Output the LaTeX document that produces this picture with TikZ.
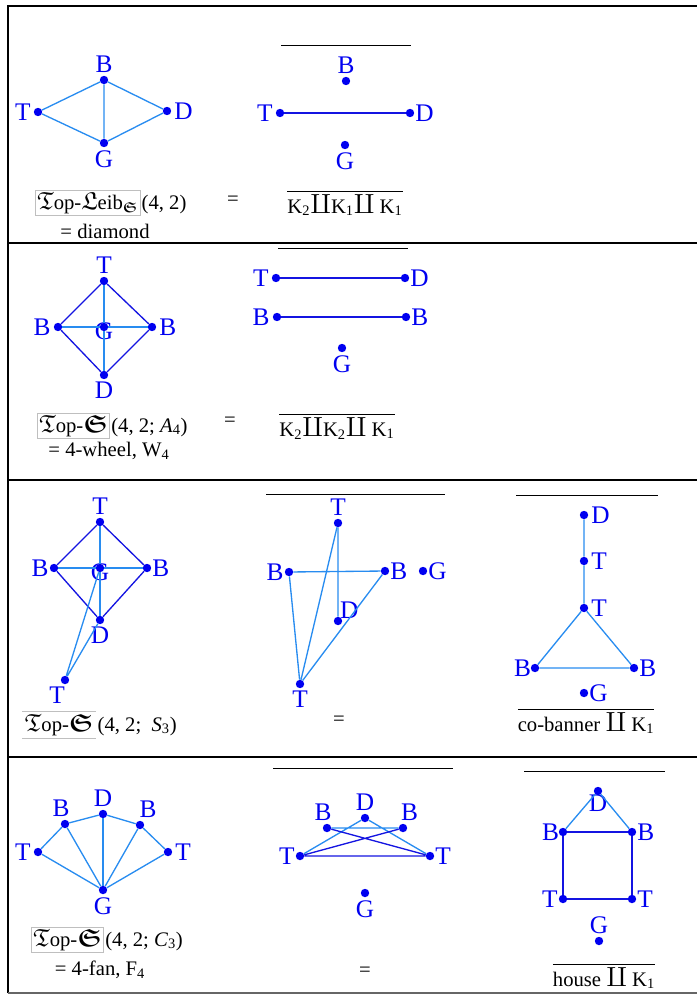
\documentclass[tikz,border=0pt]{standalone}
\usepackage{amsmath,amssymb}
\usepackage{fontspec}
\setmainfont{Liberation Serif}
\usetikzlibrary{positioning}

\definecolor{vblue}{RGB}{0,0,240}
\definecolor{dblue}{RGB}{20,20,225}
\definecolor{lblue}{RGB}{40,140,240}

\newcommand{\lbfont}{\fontsize{19}{19}\selectfont}
\newcommand{\cpfont}{\fontsize{15.5}{17}\selectfont}
\newcommand{\cop}{{\fontsize{20}{20}\selectfont$\amalg$}}
\newcommand{\Fk}[1]{{\fontsize{18.5}{18}\selectfont$\mathfrak{#1}$}}
\newcommand{\Top}{\Fk{T}op-}
\newcommand{\Sb}{{\fontsize{18.5}{18}\selectfont$\boldsymbol{\mathfrak{S}}$}}

\begin{document}
\begin{tikzpicture}[x=0.75pt,y=-0.75pt,
  dot/.style={circle,fill=vblue,inner sep=0pt,minimum size=6.3pt},
  every label/.style={text=vblue,font=\lbfont,inner sep=0.5pt},
  label distance=1.5pt,
  dk/.style={draw=dblue,line width=1pt},
  lt/.style={draw=lblue,line width=1pt},
  capt/.style={font=\cpfont,inner sep=0pt},
  opbox/.style={draw=black!25,inner sep=1.5pt,font=\cpfont}]

\useasboundingbox (0,0) rectangle (697,995);

% frame
\draw[line width=1.2pt] (8,993) -- (8,6) -- (697,6);
\foreach \y in {243,480,757}
  \draw[line width=1.2pt] (8,\y) -- (697,\y);
\draw[line width=1.2pt,black!60] (8,993) -- (697,993);

% row 1: diamond
\node (t11) [dot,label=left:T] at (38,112) {};
\node (b11) [dot,label=above:B] at (104,80) {};
\node (d11) [dot,label=right:D] at (167,111) {};
\node (g11) [dot,label=below:G] at (104,143) {};
\draw[lt] (t11) -- (b11) -- (d11) -- (g11) -- (t11) (b11) -- (g11);

\node (o1) [opbox,anchor=base west] at (35,209) {\Top\Fk{L}eib$_{\boldsymbol{\mathfrak{S}}}$};
\node (a1) [capt,base right=1pt of o1] {(4, 2)};
\node (e1) [capt] at (233,201) {=};
\node (n1) [capt] at (105,231) {= diamond};

\draw (281,45) -- (411,45);
\node (b12) [dot,label=above:B] at (346,81) {};
\node (t12) [dot,label=left:T] at (280,113) {};
\node (d12) [dot,label={[label distance=0pt]right:D}] at (410,113) {};
\node (g12) [dot,label=below:G] at (345,145) {};
\draw[dk] (t12) -- (d12);
\node (k1) [capt] at (345,203) {$\overline{\mbox{K\textsubscript{2}\cop K\textsubscript{1}\cop\ K\textsubscript{1}}}$};

% row 2: 4-wheel
\node (t21) [dot,label=above:T] at (104,281) {};
\node (l21) [dot,label=left:B] at (58,327) {};
\node (g21) [dot,label={[yshift=-3pt]center:G}] at (104,327) {};
\node (r21) [dot,label=right:B] at (152,327) {};
\node (d21) [dot,label=below:D] at (104,375) {};
\draw[dk] (t21) -- (l21) -- (d21) -- (r21) -- (t21);
\draw[lt] (t21) -- (g21) -- (d21) (l21) -- (g21) -- (r21);

\node (o2) [opbox,anchor=base west] at (37,432) {\Top\Sb};
\node (a2) [capt,base right=1pt of o2] {(4, 2; \textit{A}\textsubscript{4})};
\node (e2) [capt] at (230,422) {=};
\node (n2) [capt] at (109,451) {= 4-wheel, W\textsubscript{4}};

\draw (278,248) -- (408,248);
\node (t22) [dot,label=left:T] at (276,278) {};
\node (d22) [dot,label={[label distance=0pt]right:D}] at (405,278) {};
\node (l22) [dot,label=left:B] at (277,317) {};
\node (r22) [dot,label={[label distance=0pt]right:B}] at (406,317) {};
\node (g22) [dot,label=below:G] at (342,348) {};
\draw[dk] (t22) -- (d22) (l22) -- (r22);
\node (k2) [capt] at (337,426) {$\overline{\mbox{K\textsubscript{2}\cop K\textsubscript{2}\cop\ K\textsubscript{1}}}$};

% row 3: S_3
\node (t31) [dot,label=above:T] at (100,522) {};
\node (l31) [dot,label={[label distance=0pt]left:B}] at (54,568) {};
\node (g31) [dot,label={[yshift=-3pt]center:G}] at (100,568) {};
\node (r31) [dot,label={[label distance=0pt]right:B}] at (147,568) {};
\node (d31) [dot,label=below:D] at (100,620) {};
\node (s31) [dot,label={[xshift=-6pt]below:T}] at (65,680) {};
\draw[dk] (t31) -- (l31) -- (d31) -- (r31) -- (t31);
\draw[lt] (t31) -- (g31) -- (d31) (l31) -- (g31) -- (r31);
\draw[lt] (g31) -- (s31) -- (d31);

\node (o3) [capt,inner sep=2pt,anchor=base west] at (22,731) {\Top\Sb};
\draw[black!25] (o3.north west) -- (o3.north east) (o3.south west) -- (o3.south east);
\node (a3) [capt,base right=1pt of o3] {(4, 2;~ \textit{S}\textsubscript{3})};

\draw (266,494) -- (445,494);
\node (t32) [dot,label=above:T] at (338,523) {};
\node (l32) [dot,label={[label distance=0pt]left:B}] at (289,572) {};
\node (r32) [dot,label={[label distance=0pt]right:B}] at (385,571) {};
\node (g32) [dot,label={[label distance=0pt]right:G}] at (423,571) {};
\node (d32) [dot,label={[label distance=-2pt]above right:D}] at (338,621) {};
\node (s32) [dot,label=below:T] at (300,684) {};
\draw[lt] (t32) -- (d32) (l32) -- (r32);
\draw[lt] (l32) -- (s32) -- (t32) (s32) -- (r32);
\node (e3) [capt] at (339,721) {=};

\draw (516,495) -- (658,495);
\node (d33) [dot,label=right:D] at (584,515) {};
\node (t33) [dot,label=right:T] at (584,561) {};
\node (u33) [dot,label=right:T] at (584,608) {};
\node (l33) [dot,label={[label distance=-1pt]left:B}] at (535,668) {};
\node (r33) [dot,label={[label distance=0pt]right:B}] at (634,668) {};
\node (g33) [dot,label={[label distance=0pt]right:G}] at (584,693) {};
\draw[lt] (d33) -- (t33) -- (u33) -- (l33) -- (r33) -- (u33);
\node (k3) [capt] at (586,721) {$\overline{\mbox{co-banner \cop\ K\textsubscript{1}}}$};

% row 4: 4-fan
\node (t41) [dot,label=left:T] at (38,852) {};
\node (l41) [dot,label={[xshift=-3pt]above:B}] at (65,824) {};
\node (d41) [dot,label=above:D] at (103,814) {};
\node (r41) [dot,label={[xshift=6pt]above:B}] at (140,825) {};
\node (u41) [dot,label=right:T] at (168,852) {};
\node (g41) [dot,label=below:G] at (103,890) {};
\draw[lt] (t41) -- (l41) -- (d41) -- (r41) -- (u41);
\foreach \v in {t41,l41,d41,r41,u41}
  \draw[lt] (g41) -- (\v);

\node (o4) [opbox,anchor=base west] at (31,946) {\Top\Sb};
\node (a4) [capt,base right=1pt of o4] {(4, 2; \textit{C}\textsubscript{3})};
\node (n4) [capt] at (100,970) {= 4-fan, F\textsubscript{4}};

\draw (273,768) -- (453,768);
\node (l42) [dot,label={[xshift=-3pt]above:B}] at (327,828) {};
\node (d42) [dot,label=above:D] at (365,818) {};
\node (r42) [dot,label={[xshift=5pt]above:B}] at (403,828) {};
\node (t42) [dot,label={[label distance=0pt]left:T}] at (300,856) {};
\node (u42) [dot,label={[label distance=0pt]right:T}] at (430,856) {};
\node (g42) [dot,label=below:G] at (365,893) {};
\draw[lt] (l42) -- (r42) (t42) -- (d42) -- (u42);
\draw[dk] (t42) -- (u42) (t42) -- (r42) (l42) -- (u42);
\node (e4) [capt] at (365,972) {=};

\draw (524,771) -- (665,771);
\node (d43) [dot,label={[label distance=-1pt]below:D}] at (598,791) {};
\node (l43) [dot,label={[label distance=-1pt]left:B}] at (563,832) {};
\node (r43) [dot,label={[label distance=0pt]right:B}] at (632,832) {};
\node (t43) [dot,label={[label distance=0pt]left:T}] at (563,899) {};
\node (u43) [dot,label={[label distance=0pt]right:T}] at (632,899) {};
\node (g43) [dot,label=above:G] at (599,941) {};
\draw[lt] (l43) -- (d43) -- (r43);
\draw[dk] (l43) -- (r43) -- (u43) -- (t43) -- (l43);
\node (k4) [capt] at (604,976) {$\overline{\mbox{house \cop\ K\textsubscript{1}}}$};

\end{tikzpicture}
\end{document}
